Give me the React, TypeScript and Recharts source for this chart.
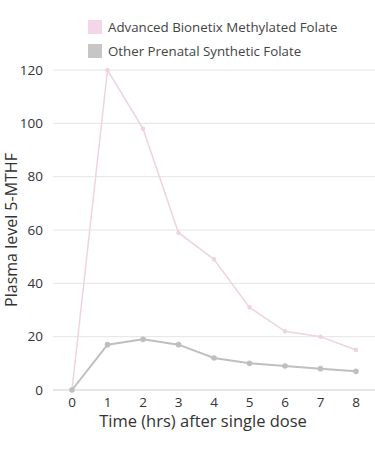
import { LineChart, Line, XAxis, YAxis, CartesianGrid, Label } from "recharts";

const hours = [0, 1, 2, 3, 4, 5, 6, 7, 8];
const bionetix = [0, 120, 98, 59, 49, 31, 22, 20, 15];
const synthetic = [0, 17, 19, 17, 12, 10, 9, 8, 7];
const yTicks = [0, 20, 40, 60, 80, 100, 120];

const PINK = "#efd3de";
const GRAY = "#bfbfbf";
const FONT = "'Open Sans', sans-serif";

const data = hours.map((h, i) => ({ h, bionetix: bionetix[i], synthetic: synthetic[i] }));

const legendItems = [
  { label: "Advanced Bionetix Methylated Folate", color: "#f4d6ea" },
  { label: "Other Prenatal Synthetic Folate", color: "#c6c6c6" },
];

function LegendBox() {
  return (
    <div style={{ position: "absolute", left: 88, top: 15, fontFamily: FONT, fontSize: 13.3, color: "#444" }}>
      {legendItems.map((it) => (
        <div key={it.label} style={{ display: "flex", alignItems: "center", height: 24 }}>
          <span style={{ width: 14, height: 14, background: it.color, marginRight: 6, display: "inline-block" }} />
          {it.label}
        </div>
      ))}
    </div>
  );
}

export default function App() {
  return (
    <div style={{ position: "absolute", left: 0, top: 0, width: 375, height: 450, background: "#fff" }}>
      <LineChart width={375} height={450} data={data} margin={{ top: 70, right: 0, bottom: 0, left: 0 }}>
        <CartesianGrid vertical={false} stroke="#e4e4e4" />
        <XAxis
          dataKey="h"
          type="number"
          domain={[0, 8]}
          ticks={hours}
          padding={{ left: 19, right: 19 }}
          height={60}
          tickLine={false}
          axisLine={{ stroke: "#dcdcdc" }}
          tickMargin={1}
          tick={{ fill: "#333", fontSize: 13.5, fontFamily: FONT }}
        >
          <Label value="Time (hrs) after single dose" position="insideBottom" offset={23} dx={-11}
            fill="#333" fontSize={16.5} fontFamily={FONT} />
        </XAxis>
        <YAxis
          width={53}
          domain={[0, 120]}
          ticks={yTicks}
          tickLine={false}
          axisLine={false}
          tickMargin={4}
          tick={{ fill: "#333", fontSize: 13.5, fontFamily: FONT }}
        >
          <Label value="Plasma level 5-MTHF" angle={-90} position="insideLeft" dx={6}
            fill="#333" fontSize={16} fontFamily={FONT} textAnchor="middle" />
        </YAxis>
        <Line dataKey="bionetix" stroke={PINK} strokeWidth={1.5} dot={{ r: 1.5, fill: PINK, stroke: PINK }} isAnimationActive={false} />
        <Line dataKey="synthetic" stroke={GRAY} strokeWidth={2} dot={{ r: 1.8, fill: GRAY, stroke: GRAY }} isAnimationActive={false} />
      </LineChart>
      <LegendBox />
    </div>
  );
}
